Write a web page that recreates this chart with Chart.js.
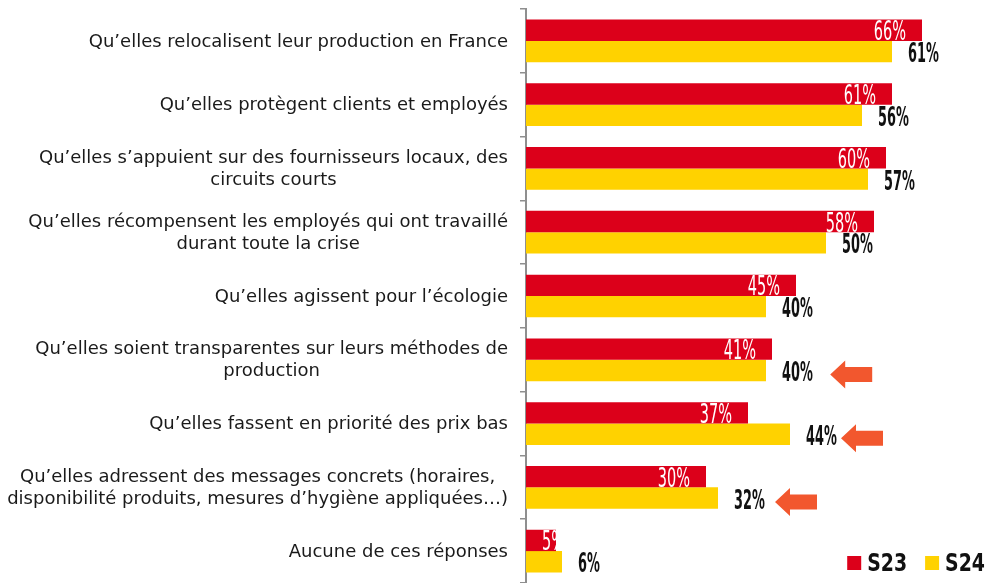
<!DOCTYPE html>
<html>
<head>
<meta charset="utf-8">
<script src="https://cdn.jsdelivr.net/npm/chart.js@4"></script>
<style>
html,body{margin:0;padding:0;background:#fff;}
#wrap{width:988px;height:583px;position:relative;}
</style>
</head>
<body>
<div id="wrap"><canvas id="c" width="988" height="583"></canvas></div>
<script>
const categories = [
  ["Qu’elles relocalisent leur production en France"],
  ["Qu’elles protègent clients et employés"],
  ["Qu’elles s’appuient sur des fournisseurs locaux, des", "circuits courts"],
  ["Qu’elles récompensent les employés qui ont travaillé", "durant toute la crise"],
  ["Qu’elles agissent pour l’écologie"],
  ["Qu’elles soient transparentes sur leurs méthodes de", "production"],
  ["Qu’elles fassent en priorité des prix bas"],
  ["Qu’elles adressent des messages concrets (horaires,", "disponibilité produits, mesures d’hygiène appliquées…)"],
  ["Aucune de ces réponses"]
];
const seriesNames = ["S23", "S24"];
const s23 = [66, 61, 60, 58, 45, 41, 37, 30, 5];
const s24 = [61, 56, 57, 50, 40, 40, 44, 32, 6];
// arrows (highlight) placed in value units, null = no arrow
const arrowAt = [null, null, null, null, null, 50.7, 52.5, 41.5, null];

const RED = '#DC001A';
const YELLOW = '#FFD200';
const ARROW = '#F2572E';
const NUMFONT = "'DejaVu Sans Condensed', 'Liberation Sans Narrow', sans-serif";
const LABELFONT = "18px 'DejaVu Sans', Verdana, sans-serif";

function drawNarrow(ctx, text, x, y, color, font, sx) {
  ctx.save();
  ctx.font = font;
  ctx.fillStyle = color;
  ctx.textBaseline = 'alphabetic';
  ctx.textAlign = 'left';
  ctx.translate(x, y);
  ctx.scale(sx, 1);
  ctx.fillText(text, 0, 0);
  ctx.restore();
}
function narrowWidth(ctx, text, font, sx) {
  ctx.save(); ctx.font = font;
  const w = ctx.measureText(text).width * sx;
  ctx.restore();
  return w;
}

const REDVALFONT = '26px ' + NUMFONT;
const REDVALSX = 0.62;
const VALFONT = 'bold 26px ' + NUMFONT;
const VALSX = 0.55;
const LEGFONT = 'bold 25px ' + NUMFONT;
const LEGSX = 0.84;

const labelPlugin = {
  id: 'customDraw',
  afterDatasetsDraw(chart) {
    const ctx = chart.ctx;
    const xs = chart.scales.x, ys = chart.scales.y;
    // category labels
    ctx.save();
    ctx.font = LABELFONT;
    ctx.fillStyle = '#1a1a1a';
    ctx.textBaseline = 'middle';
    ctx.textAlign = 'center';
    const rightEdge = ys.right - 18;
    const lh = 22;
    categories.forEach((lines, i) => {
      const cy = ys.getPixelForValue(i);
      let maxW = 0;
      lines.forEach(l => { maxW = Math.max(maxW, ctx.measureText(l).width); });
      const cx = rightEdge - maxW / 2;
      const y0 = cy - (lines.length - 1) * lh / 2;
      lines.forEach((l, k) => ctx.fillText(l, cx, y0 + k * lh + 1));
    });
    ctx.restore();

    // value labels
    const m0 = chart.getDatasetMeta(0), m1 = chart.getDatasetMeta(1);
    const base = xs.getPixelForValue(0);
    m0.data.forEach((bar, i) => {
      const txt = s23[i] + '%';
      const h = bar.height;
      ctx.save();
      ctx.beginPath();
      ctx.rect(base, bar.y - h / 2, bar.x - base, h);
      ctx.clip();
      const w = narrowWidth(ctx, txt, REDVALFONT, REDVALSX);
      const left = Math.max(bar.x - 16 - w, base + 16);
      drawNarrow(ctx, txt, left, bar.y + 10, '#ffffff', REDVALFONT, REDVALSX);
      ctx.restore();
    });
    m1.data.forEach((bar, i) => {
      const txt = s24[i] + '%';
      drawNarrow(ctx, txt, bar.x + 16, bar.y + 10.5, '#111111', VALFONT, VALSX);
    });

    // arrows
    arrowAt.forEach((v, i) => {
      if (v === null) return;
      const bar = m1.data[i];
      const x0 = xs.getPixelForValue(v);
      const cy = bar.y + 4;
      const L = 42, H = 28, sh = 15, hl = 15;
      ctx.save();
      ctx.fillStyle = ARROW;
      ctx.beginPath();
      ctx.moveTo(x0, cy);
      ctx.lineTo(x0 + hl, cy - H / 2);
      ctx.lineTo(x0 + hl, cy - sh / 2);
      ctx.lineTo(x0 + L, cy - sh / 2);
      ctx.lineTo(x0 + L, cy + sh / 2);
      ctx.lineTo(x0 + hl, cy + sh / 2);
      ctx.lineTo(x0 + hl, cy + H / 2);
      ctx.closePath();
      ctx.fill();
      ctx.restore();
    });

    // legend
    const colors = [RED, YELLOW];
    let xR = chart.width - 3;
    const ly = 571;
    for (let k = seriesNames.length - 1; k >= 0; k--) {
      const tw = narrowWidth(ctx, seriesNames[k], LEGFONT, LEGSX);
      const tx = xR - tw;
      drawNarrow(ctx, seriesNames[k], tx, ly, '#111111', LEGFONT, LEGSX);
      ctx.fillStyle = colors[k];
      ctx.fillRect(tx - 20, ly - 15, 14, 14);
      xR = tx - 20 - 18;
    }
  }
};

new Chart(document.getElementById('c'), {
  type: 'bar',
  data: {
    labels: categories,
    datasets: [
      { label: seriesNames[0], data: s23, backgroundColor: RED, borderWidth: 0 },
      { label: seriesNames[1], data: s24, backgroundColor: YELLOW, borderWidth: 0 }
    ]
  },
  options: {
    indexAxis: 'y',
    responsive: false,
    animation: false,
    devicePixelRatio: 1,
    layout: { padding: { top: 9, bottom: -4, left: 0, right: 0 } },
    datasets: { bar: { categoryPercentage: 0.67, barPercentage: 1 } },
    plugins: { legend: { display: false }, tooltip: { enabled: false } },
    scales: {
      x: { display: false, min: 0, max: 77 },
      y: {
        afterFit(axis) { axis.width = 526; },
        ticks: { display: false },
        grid: { drawOnChartArea: false, drawTicks: true, tickLength: 6, color: '#8f8f8f', lineWidth: 1.5, offset: true },
        border: { display: true, color: '#8f8f8f', width: 2 }
      }
    }
  },
  plugins: [labelPlugin]
});
</script>
</body>
</html>
